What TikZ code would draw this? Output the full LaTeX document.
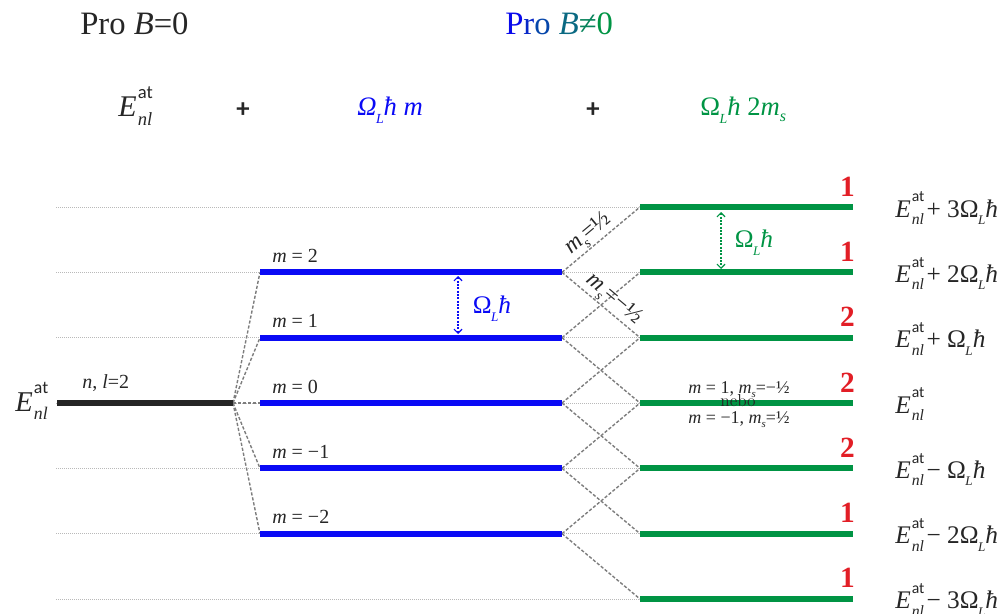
\documentclass[tikz,border=0pt]{standalone}
\usepackage{fontspec}
\usepackage{graphicx}
\usetikzlibrary{arrows.meta}
\newfontfamily\cam{Liberation Serif}
\newfontfamily\carl{Carlito}
\definecolor{lvblue}{RGB}{10,10,245}
\definecolor{lvgreen}{RGB}{0,148,68}
\definecolor{lvred}{RGB}{226,30,38}
\definecolor{ink}{RGB}{38,38,38}
\definecolor{guide}{RGB}{185,185,185}
\definecolor{link}{RGB}{125,125,125}
% E_nl^at, Omega_L, italic hbar, m_s
\newcommand\Enl{\textit{E}\kern.04em\rlap{\raisebox{.6em}{\scalebox{.62}{\carl at}}}\raisebox{-.3em}{\scalebox{.62}{\textit{nl}}}}
\newcommand\OmL{Ω\kern-.02em\raisebox{-.3em}{\scalebox{.52}{\textit{L}}}}
\newcommand\hbarit{\textit{ħ}}
\newcommand\mssym{\textit{m}\raisebox{-.25em}{\scalebox{.6}{\textit{s}}}}
\begin{document}
\begin{tikzpicture}[x=0.75pt,y=-0.75pt,
  guideline/.style={guide, line width=0.6pt, dash pattern=on 0.6pt off 0.9pt},
  fanline/.style={link, line width=1.05pt, dash pattern=on 2.4pt off 1.4pt},
  lvl0/.style={line width=4.5pt, ink},
  lvlm/.style={line width=4.5pt, lvblue},
  lvls/.style={line width=4.5pt, lvgreen},
  lbl/.style={font=\cam\fontsize{15}{18}\selectfont, text=ink, inner sep=0pt, anchor=base west},
  eq/.style={font=\cam\fontsize{19}{22}\selectfont, text=ink, inner sep=0pt, anchor=base west},
  hdr/.style={font=\cam\fontsize{24.5}{28}\selectfont, text=ink, inner sep=0pt, anchor=base west},
  plus/.style={font=\carl\bfseries\fontsize{20}{22}\selectfont, text=ink, inner sep=0pt},
  deg/.style={font=\cam\bfseries\fontsize{22}{24}\selectfont, text=lvred, inner sep=0pt, anchor=base east},
  note/.style={font=\cam\fontsize{13.5}{16}\selectfont, text=ink, inner sep=0pt, anchor=base},
  spin/.style={sloped, above, inner sep=1pt, font=\cam\fontsize{17.5}{20}\selectfont, text=ink},
  gap/.style={line width=0.9pt, dash pattern=on 1.5pt off 1pt,
    {Straight Barb[length=3pt,width=6pt]}-{Straight Barb[length=3pt,width=6pt]}}]
\useasboundingbox (0,0) rectangle (1000,614);

% level coordinates and dotted guide lines
\foreach \k in {3,2,1,0,-1,-2,-3}{
  \pgfmathsetmacro\yy{403-65.33*\k}
  \coordinate (gl\k) at (640,\yy);
  \coordinate (gr\k) at (853,\yy);
  \coordinate (hl\k) at (56,\yy);
  \draw[guideline] (hl\k) -- (gl\k);
}
\foreach \m in {2,1,0,-1,-2}{
  \pgfmathsetmacro\yy{403-65.33*\m}
  \coordinate (bl\m) at (260,\yy);
  \coordinate (br\m) at (562,\yy);
}
\coordinate (n0l) at (57,403);
\coordinate (n0r) at (233,403);

% splitting connectors
\foreach \m in {2,1,0,-1,-2}{
  \draw[fanline] (n0r) -- (bl\m);
  \pgfmathtruncatemacro\up{\m+1}
  \pgfmathtruncatemacro\dn{\m-1}
  \draw[fanline] (br\m) -- (gl\up);
  \draw[fanline] (br\m) -- (gl\dn);
}

% levels
\draw[lvl0] (n0l) -- (n0r);
\foreach \m in {2,1,0,-1,-2}{ \draw[lvlm] (bl\m) -- (br\m); }
\foreach \k in {3,2,1,0,-1,-2,-3}{ \draw[lvls] (gl\k) -- (gr\k); }

% m labels
\foreach \m/\t in {2/2,1/1,0/0,-1/−1,-2/−2}{
  \pgfmathsetmacro\yy{403-65.33*\m-10}
  \node[lbl] (lm\m) at (272,\yy) {\textit{m} = \t};
}
\node[lbl] (nl) at (82,388) {\textit{n}, \textit{l}=2};
\node[eq, font=\cam\fontsize{21.5}{24}\selectfont] (e0) at (15,411) {\Enl};

% degeneracies and energies
\foreach \k/\d in {3/1,2/1,1/2,0/2,-1/2,-2/1,-3/1}{
  \pgfmathsetmacro\yy{403-65.33*\k-11}
  \node[deg] (d\k) at (855,\yy) {\d};
}
\foreach \k/\t in {3/{\kern.1em+ 3\OmL\hbarit},2/{\kern.1em+ 2\OmL\hbarit},1/{\kern.1em+ \OmL\hbarit},0/{},-1/{\kern.1em− \OmL\hbarit},-2/{\kern.1em− 2\OmL\hbarit},-3/{\kern.1em− 3\OmL\hbarit}}{
  \pgfmathsetmacro\yy{403-65.33*\k+10}
  \node[eq] (r\k) at (895,\yy) {\Enl\t};
}

% spacing arrows
\coordinate (ba) at (458,276); \coordinate (bb) at (458,334);
\draw[gap, lvblue] (ba) -- (bb);
\node[eq, text=lvblue, anchor=center] (bw) at (492,309) {\OmL\hbarit};
\coordinate (ga) at (721,212); \coordinate (gb) at (721,269);
\draw[gap, lvgreen] (ga) -- (gb);
\node[eq, text=lvgreen, anchor=center] (gw) at (754,243) {\OmL\hbarit};

% spin labels
\path (br2) -- node[spin, pos=0.44] (su) {\mssym=½} (gl3);
\path (br2) -- node[spin, pos=0.56] (sd) {\mssym=−½} (gl1);

% shared level note
\node[note] (n1) at (739,393) {\textit{m} = 1, \mssym=−½};
\node[inner sep=0pt, anchor=base, font=\rmfamily\fontsize{13}{15}\selectfont, text=ink] (nb) at (738,406) {nebo};
\node[note] (n2) at (739,423) {\textit{m} = −1, \mssym=½};

% headings
\node[hdr] (h0) at (80,35) {Pro \textit{B}=0};
\definecolor{c1}{RGB}{10,10,235}
\definecolor{c2}{RGB}{8,40,200}
\definecolor{c3}{RGB}{6,70,170}
\definecolor{c4}{RGB}{10,105,130}
\definecolor{c5}{RGB}{5,130,90}
\definecolor{c6}{RGB}{0,148,68}
\node[hdr] (h1) at (505,35) {\textcolor{c1}{P}\textcolor{c2}{r}\textcolor{c3}{o} \textcolor{c4}{\textit{B}}\textcolor{c5}{≠}\textcolor{c6}{0}};
\node[eq, font=\cam\fontsize{22.5}{26}\selectfont] (t0) at (118,116) {\Enl};
\node[plus] (p1) at (243,110) {+};
\node[eq, font=\cam\fontsize{20}{24}\selectfont, text=lvblue] (t1) at (357,115) {\textit{\OmL\hbarit\ m}};
\node[plus] (p2) at (593,110) {+};
\node[eq, font=\cam\fontsize{20}{24}\selectfont, text=lvgreen] (t2) at (700,115) {\OmL\hbarit\ 2\mssym};
\end{tikzpicture}
\end{document}
